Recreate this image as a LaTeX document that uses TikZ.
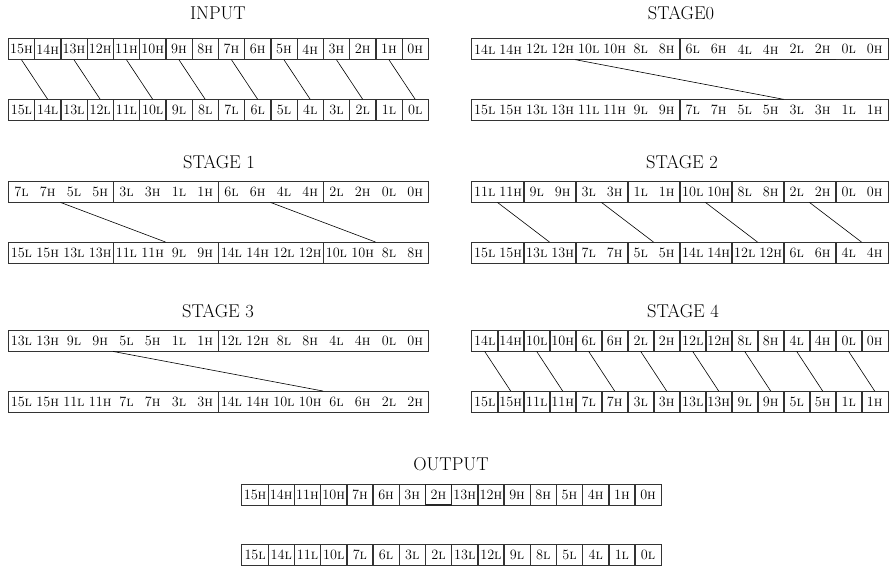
\documentclass[tikz,border=0pt]{standalone}
\usepackage{tikz}
\tikzset{
 cellbox/.style={inner sep=0pt, minimum height=20.5pt, font=\fontsize{14.2}{15}\selectfont},
 boxline/.style={draw=black!80, line width=0.65pt},
 link/.style={draw=black, line width=0.6pt},
 title/.style={font=\fontsize{18.5}{19}\selectfont, inner sep=0pt},
}
% #1 prefix, #2 x0, #3 cell width, #4 y centre, #5 group size, #6 list
\newcommand\cellrow[6]{%
 \foreach \n/\s [count=\i from 0] in {#6}{
   \node[cellbox, minimum width=#3pt] (#1\i) at ({#2+(\i+0.5)*#3},#4) {\n\textsc{\s}};
 }
 \pgfmathtruncatemacro\ngrp{16/#5-1}
 \foreach \g in {0,...,\ngrp}{
   \pgfmathtruncatemacro\ga{\g*#5}
   \pgfmathtruncatemacro\gb{\g*#5+#5-1}
   \draw[boxline] (#1\ga.north west) rectangle (#1\gb.south east);
 }
}
\begin{document}
\begin{tikzpicture}[x=1pt,y=-1pt]
\useasboundingbox (0,0) rectangle (889,579);
\fill[white] (0,0) rectangle (889,579);

% ---------- INPUT ----------
\node[title] (tin) at (218,13) {INPUT};
\cellrow{it}{8.3}{26.25}{49.25}{1}{15/h,14/h,13/h,12/h,11/h,10/h,9/h,8/h,7/h,6/h,5/h,4/h,3/h,2/h,1/h,0/h}
\cellrow{ib}{8.3}{26.25}{109.75}{1}{15/l,14/l,13/l,12/l,11/l,10/l,9/l,8/l,7/l,6/l,5/l,4/l,3/l,2/l,1/l,0/l}
\foreach \k in {0,2,...,14}{
  \pgfmathtruncatemacro\kk{\k+1}
  \draw[link] (it\k.south) -- (ib\kk.north);
}

% ---------- STAGE0 ----------
\node[title] (ts0) at (681,13) {STAGE0};
\cellrow{at}{471.7}{26}{49.25}{8}{14/l,14/h,12/l,12/h,10/l,10/h,8/l,8/h,6/l,6/h,4/l,4/h,2/l,2/h,0/l,0/h}
\cellrow{ab}{471.7}{26}{109.75}{8}{15/l,15/h,13/l,13/h,11/l,11/h,9/l,9/h,7/l,7/h,5/l,5/h,3/l,3/h,1/l,1/h}
\draw[link] (at4.south west) -- (ab12.north west);
\draw[line width=1.3pt, black!85] (at13.south west) -- (at13.south east);

% ---------- STAGE 1 ----------
\node[title] (ts1) at (219,162) {STAGE 1};
\cellrow{bt}{8.3}{26.25}{192}{4}{7/l,7/h,5/l,5/h,3/l,3/h,1/l,1/h,6/l,6/h,4/l,4/h,2/l,2/h,0/l,0/h}
\cellrow{bb}{8.3}{26.25}{252.5}{4}{15/l,15/h,13/l,13/h,11/l,11/h,9/l,9/h,14/l,14/h,12/l,12/h,10/l,10/h,8/l,8/h}
\draw[link] (bt2.south west) -- (bb6.north west);
\draw[link] (bt10.south west) -- (bb14.north west);

% ---------- STAGE 2 ----------
\node[title] (ts2) at (682,162) {STAGE 2};
\cellrow{ct}{471.7}{26}{192}{2}{11/l,11/h,9/l,9/h,3/l,3/h,1/l,1/h,10/l,10/h,8/l,8/h,2/l,2/h,0/l,0/h}
\cellrow{cb}{471.7}{26}{252.5}{2}{15/l,15/h,13/l,13/h,7/l,7/h,5/l,5/h,14/l,14/h,12/l,12/h,6/l,6/h,4/l,4/h}
\foreach \a/\b in {1/3,5/7,9/11,13/15}{
  \draw[link] (ct\a.south west) -- (cb\b.north west);
}

% ---------- STAGE 3 ----------
\node[title] (ts3) at (218,311) {STAGE 3};
\cellrow{dt}{8.3}{26.25}{341}{8}{13/l,13/h,9/l,9/h,5/l,5/h,1/l,1/h,12/l,12/h,8/l,8/h,4/l,4/h,0/l,0/h}
\cellrow{db}{8.3}{26.25}{401.5}{8}{15/l,15/h,11/l,11/h,7/l,7/h,3/l,3/h,14/l,14/h,10/l,10/h,6/l,6/h,2/l,2/h}
\draw[link] (dt4.south west) -- (db12.north west);

% ---------- STAGE 4 ----------
\node[title] (ts4) at (683,311) {STAGE 4};
\cellrow{et}{471.7}{26}{341}{1}{14/l,14/h,10/l,10/h,6/l,6/h,2/l,2/h,12/l,12/h,8/l,8/h,4/l,4/h,0/l,0/h}
\cellrow{eb}{471.7}{26}{401.5}{1}{15/l,15/h,11/l,11/h,7/l,7/h,3/l,3/h,13/l,13/h,9/l,9/h,5/l,5/h,1/l,1/h}
\foreach \k in {0,2,...,14}{
  \pgfmathtruncatemacro\kk{\k+1}
  \draw[link] (et\k.south) -- (eb\kk.north);
}

% ---------- OUTPUT ----------
\node[title] (tout) at (451,464) {OUTPUT};
\cellrow{ft}{242}{26.2}{494.5}{1}{15/h,14/h,11/h,10/h,7/h,6/h,3/h,2/h,13/h,12/h,9/h,8/h,5/h,4/h,1/h,0/h}
\cellrow{fb}{242}{26.2}{555}{1}{15/l,14/l,11/l,10/l,7/l,6/l,3/l,2/l,13/l,12/l,9/l,8/l,5/l,4/l,1/l,0/l}
\draw[line width=1.1pt, black!85] (ft7.north west) rectangle (ft7.south east);
\end{tikzpicture}
\end{document}
